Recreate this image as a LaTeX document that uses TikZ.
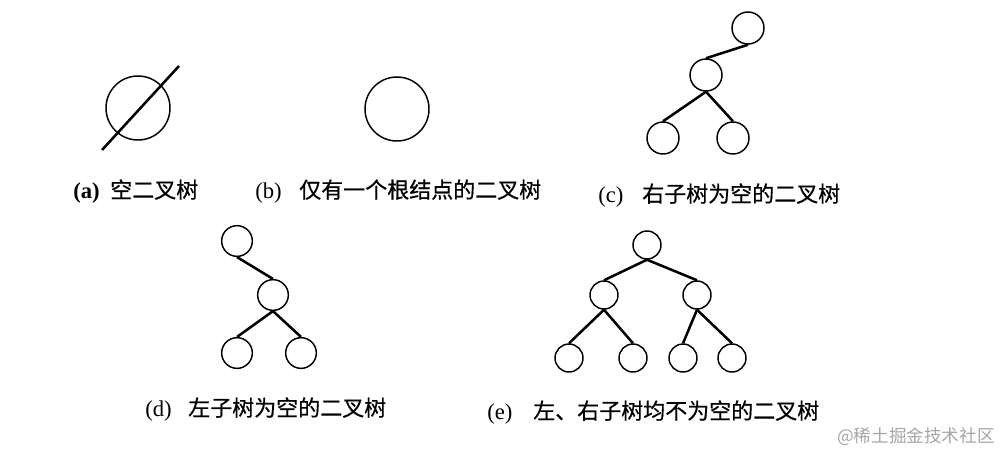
\documentclass[tikz,border=0pt]{standalone}
\usepackage{fontspec}
\setmainfont{Liberation Serif}
\newfontfamily\cjk[FakeBold=0.6]{Noto Sans CJK SC}
\newfontfamily\cjkwm{Noto Sans CJK SC}
\begin{document}
\begin{tikzpicture}[x=0.75pt,y=-0.75pt,
  nd/.style={circle,draw,line width=1.1pt,inner sep=0pt,minimum size=#1},
  nd/.default=24pt,
  edge/.style={line width=1.9pt},
  lbl/.style={font=\fontsize{17}{20}\selectfont,inner sep=0pt,anchor=base west},
  captxt/.style={font=\fontsize{16.5}{20}\selectfont\cjk,inner sep=0pt,anchor=base west},
  wm/.style={font=\fontsize{13.2}{15}\selectfont\cjkwm,text=black!35,inner sep=0pt,anchor=west}]
\useasboundingbox (0,0) rectangle (1002,451);
% (a)
\node[nd=48pt] (a1) at (138,108) {};
\coordinate (as) at (102,150);
\coordinate (ae) at (179,66);
\draw[edge] (as) -- (ae);
\node[lbl] (la) at (73,198) {\textbf{(a)}};
\node[captxt] (capa) at (110,198) {空二叉树};
% (b)
\node[nd=48pt] (b1) at (397,109) {};
\node[lbl] (lb) at (255,198) {(b)};
\node[captxt] (capb) at (299,198) {仅有一个根结点的二叉树};
% (c)
\node[nd] (c1) at (748,28) {};
\node[nd] (c2) at (706,75) {};
\node[nd] (c3) at (663,138) {};
\node[nd] (c4) at (733,138) {};
\draw[edge] (c1.south) -- (c2.north);
\draw[edge] (c2.south) -- (c3.north);
\draw[edge] (c2.south) -- (c4.north);
\node[lbl] (lc) at (598,202) {(c)};
\node[captxt] (capc) at (642,202) {右子树为空的二叉树};
% (d)
\node[nd=23pt] (d1) at (237,241) {};
\node[nd=23pt] (d2) at (273,295) {};
\node[nd=23pt] (d3) at (237,353) {};
\node[nd=23pt] (d4) at (301,353) {};
\draw[edge] (d1.south) -- (d2.north);
\draw[edge] (d2.south) -- (d3.north);
\draw[edge] (d2.south) -- (d4.north);
\node[lbl] (ld) at (145,416) {(d)};
\node[captxt] (capd) at (188,416) {左子树为空的二叉树};
% (e)
\node[nd=21pt] (e1) at (647,245) {};
\node[nd=21pt] (e2) at (604,295) {};
\node[nd=21pt] (e3) at (697,295) {};
\node[nd=21pt] (e4) at (569,358) {};
\node[nd=21pt] (e5) at (633,358) {};
\node[nd=21pt] (e6) at (683,358) {};
\node[nd=21pt] (e7) at (732,358) {};
\draw[edge] (e1.south) -- (e2.north);
\draw[edge] (e1.south) -- (e3.north);
\draw[edge] (e2.south) -- (e4.north);
\draw[edge] (e2.south) -- (e5.north);
\draw[edge] (e3.south) -- (e6.north);
\draw[edge] (e3.south) -- (e7.north);
\node[lbl] (le) at (487,419) {(e)};
\node[captxt] (cape) at (533,419) {左、右子树均不为空的二叉树};
\node[wm] (wmk) at (837,437) {@稀土掘金技术社区};
\end{tikzpicture}
\end{document}
